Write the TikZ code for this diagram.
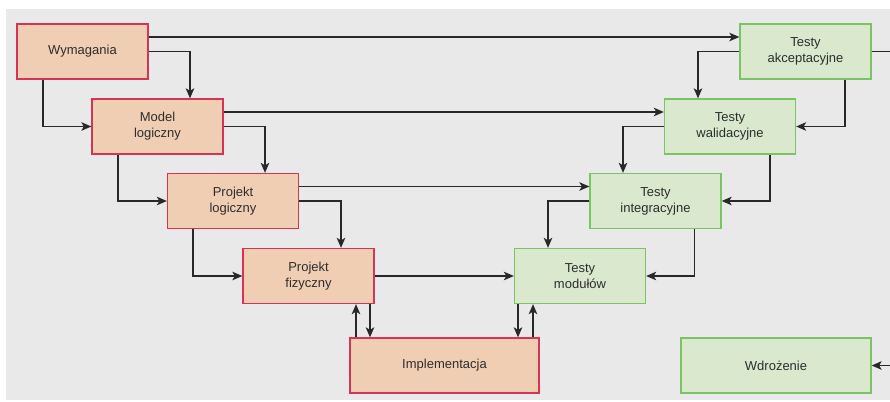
\documentclass[tikz,border=0pt]{standalone}
\usepackage{fontspec}
\setmainfont{Liberation Sans}
\usetikzlibrary{arrows.meta}
\definecolor{bggray}{RGB}{233,233,233}
\definecolor{ofill}{RGB}{240,206,180}
\definecolor{ostroke}{RGB}{214,52,86}
\definecolor{gfill}{RGB}{218,232,206}
\definecolor{gstroke}{RGB}{122,196,102}
\definecolor{txt}{RGB}{45,45,45}
\definecolor{lin}{RGB}{40,40,40}
\tikzset{
  box/.style={rectangle, line width=1.3pt, minimum width=131pt, minimum height=55pt,
    inner sep=2pt, align=center, text=txt, font=\fontsize{13}{16}\selectfont},
  obox/.style={box, draw=ostroke, fill=ofill},
  gbox/.style={box, draw=gstroke, fill=gfill},
  arr/.style={draw=lin, line width=1.4pt, -{Stealth[length=10pt,width=8.5pt,inset=2.5pt]}}
}
\begin{document}
\begin{tikzpicture}[x=1pt,y=-1pt]
\useasboundingbox (0,0) rectangle (890,401);
\fill[white] (0,0) rectangle (890,401);
\fill[bggray] (6,9) rectangle (890,400);
% left (orange) side
\node[obox] (wym) at (82.5,51.5) {Wymagania};
\node[obox] (mod) at (157.5,126.5) {Model\\logiczny};
\node[obox] (pl) at (233,201) {Projekt\\logiczny};
\node[obox] (pf) at (308.5,276) {Projekt\\fizyczny};
\node[obox, minimum width=189pt] (imp) at (444.5,365.5) {Implementacja};
% right (green) side
\node[gbox] (ta) at (805.5,51.5) {Testy\\akceptacyjne};
\node[gbox] (tw) at (730,126.5) {Testy\\walidacyjne};
\node[gbox] (ti) at (655.5,201) {Testy\\integracyjne};
\node[gbox] (tm) at (580,276) {Testy\\modułów};
\node[gbox, minimum width=190pt] (wd) at (776,365.5) {Wdrożenie};
% connectors, left side
\draw[arr] ([yshift=14.5pt]wym.east) -- ([yshift=14.5pt]ta.west);
\draw[arr] (wym.east) -| ([xshift=32.5pt]mod.north);
\draw[arr] ([xshift=-39.5pt]wym.south) |- (mod.west);
\draw[arr] ([yshift=14.5pt]mod.east) -- ([yshift=14.5pt]tw.west);
\draw[arr] (mod.east) -| ([xshift=32pt]pl.north);
\draw[arr] ([xshift=-39.5pt]mod.south) |- (pl.west);
\draw[arr] ([yshift=14.5pt]pl.east) -- ([yshift=14.5pt]ti.west);
\draw[arr] (pl.east) -| ([xshift=32.5pt]pf.north);
\draw[arr] ([xshift=-40pt]pl.south) |- (pf.west);
\draw[arr] (pf.east) -- (tm.west);
\draw[arr] ([xshift=61.5pt]pf.south) -- ([xshift=-74.5pt]imp.north);
\draw[arr] ([xshift=-88.5pt]imp.north) -- ([xshift=47.5pt]pf.south);
\draw[arr] ([xshift=-62pt]tm.south) -- ([xshift=73.5pt]imp.north);
\draw[arr] ([xshift=88.5pt]imp.north) -- ([xshift=-47pt]tm.south);
% connectors, right side
\draw[arr] (ta.west) -| ([xshift=-32pt]tw.north);
\draw[arr] ([xshift=39.5pt]ta.south) |- (tw.east);
\draw[arr] (tw.west) -| ([xshift=-32.5pt]ti.north);
\draw[arr] ([xshift=40pt]tw.south) |- (ti.east);
\draw[arr] (ti.west) -| ([xshift=-32pt]tm.north);
\draw[arr] ([xshift=39pt]ti.south) |- (tm.east);
\begin{scope}
\clip (0,0) rectangle (890,401);
\coordinate (turn) at (905,51.5);
\draw[arr] (ta.east) -- (turn) |- (wd.east);
\end{scope}
\end{tikzpicture}
\end{document}
